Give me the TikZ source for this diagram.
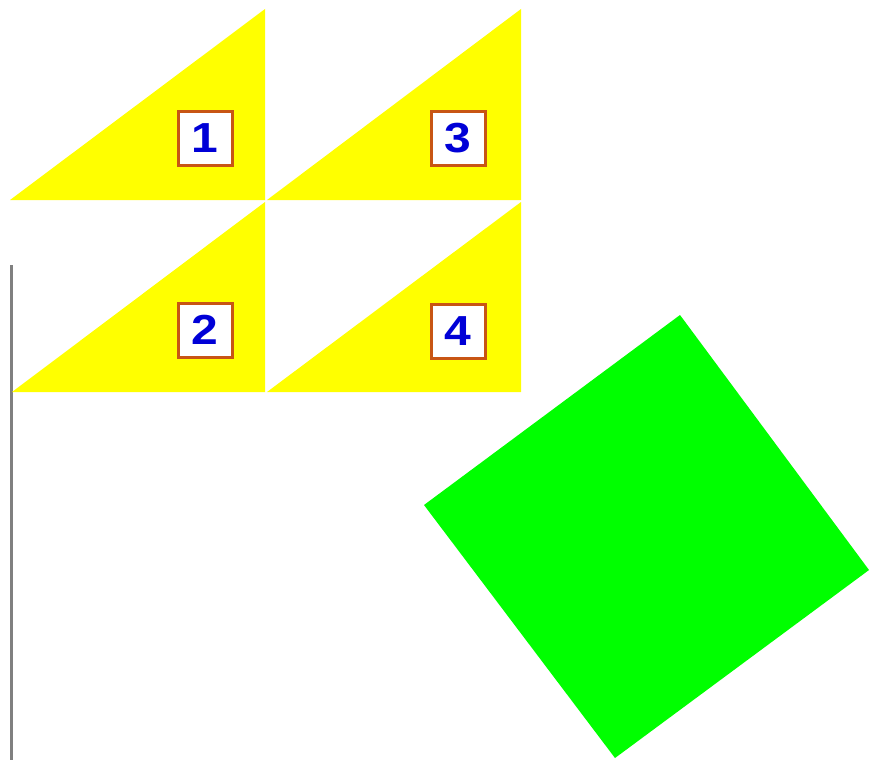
\documentclass[tikz,border=0pt]{standalone}
\usepackage{fontspec}
\setmainfont{Liberation Sans}
\definecolor{flagyellow}{RGB}{255,255,0}
\definecolor{boxborder}{RGB}{200,85,20}
\definecolor{numblue}{RGB}{0,0,215}
\definecolor{sqgreen}{RGB}{0,255,0}
\definecolor{polegray}{RGB}{128,128,128}
\newcommand{\widedigit}[1]{\scalebox{1.2}[1.05]{#1}}
\begin{document}
\begin{tikzpicture}[x=1pt,y=-1pt,
  numbox/.style={draw=boxborder,line width=3pt,fill=white,minimum width=54pt,minimum height=54pt,inner sep=0pt,text=numblue,font=\bfseries\fontsize{40}{40}\selectfont}]
\useasboundingbox (0,0) rectangle (870,760);
\fill[white] (0,0) rectangle (870,760);
% pole
\draw[polegray,line width=3pt] (11,265) -- (11,760);
% triangles
\fill[flagyellow] (10,200) -- (265,9) -- (265,200) -- cycle;
\fill[flagyellow] (12,392) -- (265,202) -- (265,392) -- cycle;
\fill[flagyellow] (267,200) -- (521,9) -- (521,200) -- cycle;
\fill[flagyellow] (267,392) -- (521,202) -- (521,392) -- cycle;
% labels
\node[numbox] (n1) at (205,138) {\widedigit{1}};
\node[numbox] (n2) at (205,330) {\widedigit{2}};
\node[numbox] (n3) at (458,138) {\widedigit{3}};
\node[numbox] (n4) at (458,331) {\widedigit{4}};
% green square
\fill[sqgreen] (680,315) -- (869,570) -- (615,758) -- (424,505) -- cycle;
\end{tikzpicture}
\end{document}
